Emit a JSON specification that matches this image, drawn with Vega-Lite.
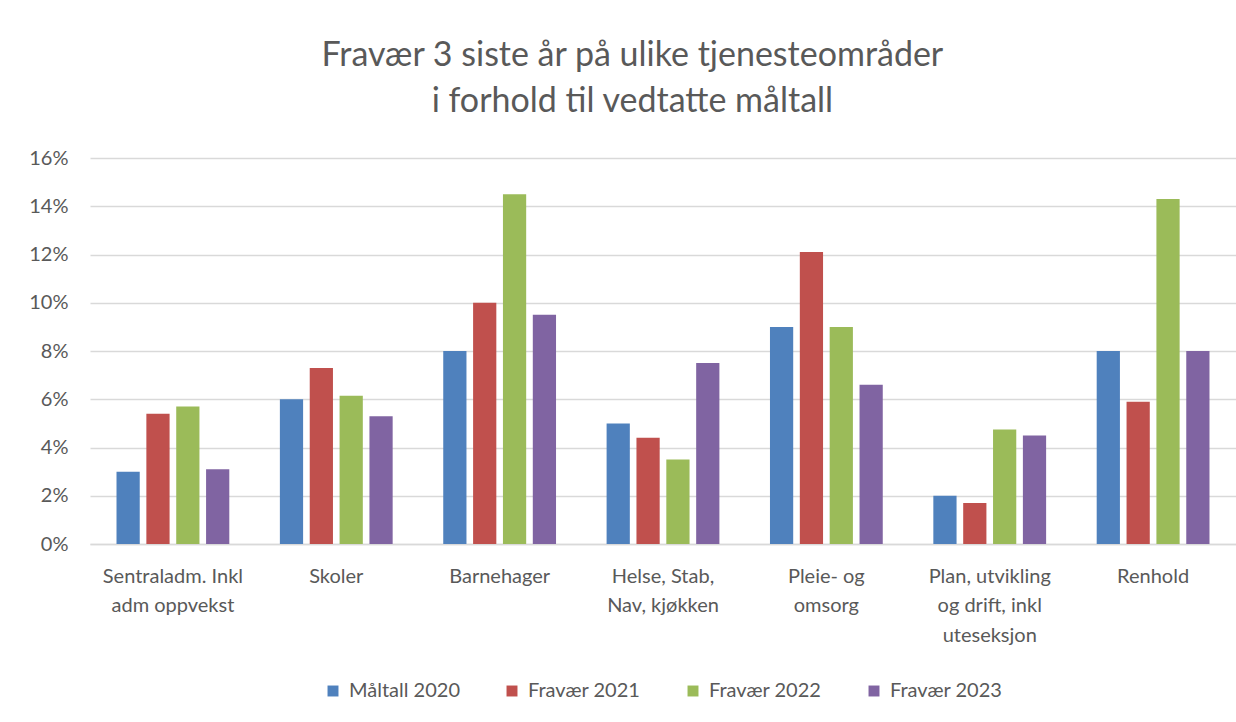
{
  "$schema": "https://vega.github.io/schema/vega-lite/v6.json",
  "width": 1146,
  "height": 386,
  "autosize": "none",
  "padding": {"left": 90, "top": 158, "right": 0, "bottom": 178},
  "background": "white",
  "config": {
    "font": "Lato",
    "view": {"stroke": null},
    "legend": {"layout": {"bottom": {"anchor": "middle"}}}
  },
  "title": {
    "text": ["Fravær 3 siste år på ulike tjenesteområder", "i forhold til vedtatte måltall"],
    "font": "Lato",
    "fontSize": 34,
    "fontWeight": "normal",
    "color": "#595959",
    "anchor": "middle",
    "frame": "bounds",
    "lineHeight": 46,
    "offset": 29
  },
  "data": {
    "values": [
      {"kategori": "Sentraladm. Inkl|adm oppvekst", "serie": "Måltall 2020", "verdi": 0.030},
      {"kategori": "Sentraladm. Inkl|adm oppvekst", "serie": "Fravær 2021", "verdi": 0.054},
      {"kategori": "Sentraladm. Inkl|adm oppvekst", "serie": "Fravær 2022", "verdi": 0.057},
      {"kategori": "Sentraladm. Inkl|adm oppvekst", "serie": "Fravær 2023", "verdi": 0.031},
      {"kategori": "Skoler", "serie": "Måltall 2020", "verdi": 0.060},
      {"kategori": "Skoler", "serie": "Fravær 2021", "verdi": 0.073},
      {"kategori": "Skoler", "serie": "Fravær 2022", "verdi": 0.0615},
      {"kategori": "Skoler", "serie": "Fravær 2023", "verdi": 0.053},
      {"kategori": "Barnehager", "serie": "Måltall 2020", "verdi": 0.080},
      {"kategori": "Barnehager", "serie": "Fravær 2021", "verdi": 0.100},
      {"kategori": "Barnehager", "serie": "Fravær 2022", "verdi": 0.145},
      {"kategori": "Barnehager", "serie": "Fravær 2023", "verdi": 0.095},
      {"kategori": "Helse, Stab,|Nav, kjøkken", "serie": "Måltall 2020", "verdi": 0.050},
      {"kategori": "Helse, Stab,|Nav, kjøkken", "serie": "Fravær 2021", "verdi": 0.044},
      {"kategori": "Helse, Stab,|Nav, kjøkken", "serie": "Fravær 2022", "verdi": 0.035},
      {"kategori": "Helse, Stab,|Nav, kjøkken", "serie": "Fravær 2023", "verdi": 0.075},
      {"kategori": "Pleie- og|omsorg", "serie": "Måltall 2020", "verdi": 0.090},
      {"kategori": "Pleie- og|omsorg", "serie": "Fravær 2021", "verdi": 0.121},
      {"kategori": "Pleie- og|omsorg", "serie": "Fravær 2022", "verdi": 0.090},
      {"kategori": "Pleie- og|omsorg", "serie": "Fravær 2023", "verdi": 0.066},
      {"kategori": "Plan, utvikling|og drift, inkl|uteseksjon", "serie": "Måltall 2020", "verdi": 0.020},
      {"kategori": "Plan, utvikling|og drift, inkl|uteseksjon", "serie": "Fravær 2021", "verdi": 0.017},
      {"kategori": "Plan, utvikling|og drift, inkl|uteseksjon", "serie": "Fravær 2022", "verdi": 0.0475},
      {"kategori": "Plan, utvikling|og drift, inkl|uteseksjon", "serie": "Fravær 2023", "verdi": 0.045},
      {"kategori": "Renhold", "serie": "Måltall 2020", "verdi": 0.080},
      {"kategori": "Renhold", "serie": "Fravær 2021", "verdi": 0.059},
      {"kategori": "Renhold", "serie": "Fravær 2022", "verdi": 0.143},
      {"kategori": "Renhold", "serie": "Fravær 2023", "verdi": 0.080}
    ]
  },
  "mark": {"type": "bar"},
  "encoding": {
    "x": {
      "field": "kategori",
      "type": "nominal",
      "sort": null,
      "scale": {"paddingInner": 0.269, "paddingOuter": 0.142},
      "axis": {
        "title": null,
        "labelAngle": 0,
        "labelExpr": "split(datum.label, '|')",
        "labelFontSize": 20,
        "labelColor": "#595959",
        "labelLineHeight": 29.5,
        "labelPadding": 22,
        "labelBaseline": "top",
        "ticks": false,
        "domainColor": "#d9d9d9",
        "domainWidth": 1.5,
        "labelLimit": 300
      }
    },
    "xOffset": {
      "field": "serie",
      "type": "nominal",
      "sort": ["Måltall 2020", "Fravær 2021", "Fravær 2022", "Fravær 2023"],
      "scale": {"paddingInner": 0.222, "paddingOuter": 0.111}
    },
    "y": {
      "field": "verdi",
      "type": "quantitative",
      "scale": {"domain": [0, 0.16], "nice": false},
      "axis": {
        "title": null,
        "format": ".0%",
        "values": [0, 0.02, 0.04, 0.06, 0.08, 0.1, 0.12, 0.14, 0.16],
        "labelFontSize": 20,
        "labelColor": "#595959",
        "labelPadding": 22,
        "ticks": false,
        "domain": false,
        "gridColor": "#d9d9d9",
        "gridWidth": 1.5
      }
    },
    "color": {
      "field": "serie",
      "type": "nominal",
      "sort": ["Måltall 2020", "Fravær 2021", "Fravær 2022", "Fravær 2023"],
      "scale": {
        "domain": ["Måltall 2020", "Fravær 2021", "Fravær 2022", "Fravær 2023"],
        "range": ["#4f81bd", "#c0504d", "#9bbb59", "#8064a2"]
      },
      "legend": {
        "title": null,
        "orient": "bottom",
        "direction": "horizontal",
        "offset": 36,
        "symbolType": "square",
        "symbolSize": 120,
        "labelFontSize": 20,
        "labelColor": "#595959",
        "columnPadding": 42,
        "labelOffset": 6
      }
    }
  }
}
